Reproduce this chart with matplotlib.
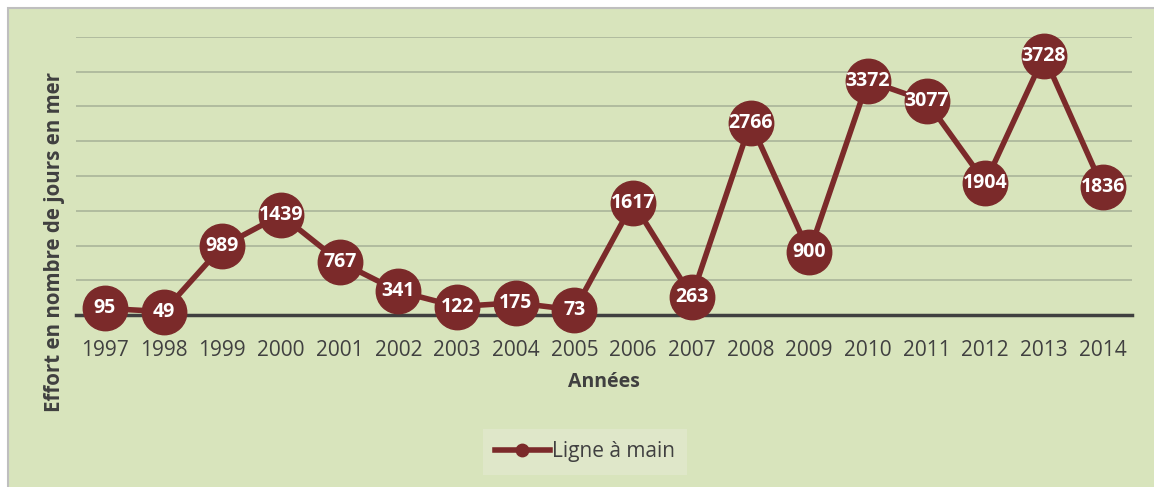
import matplotlib

matplotlib.use("Agg")

import matplotlib.pyplot as plt
from matplotlib.patches import Rectangle

# Fishing effort, hand line, days at sea per year
years = ["1997", "1998", "1999", "2000", "2001", "2002", "2003", "2004", "2005",
         "2006", "2007", "2008", "2009", "2010", "2011", "2012", "2013", "2014"]
effort = [95, 49, 989, 1439, 767, 341, 122, 175, 73,
          1617, 263, 2766, 900, 3372, 3077, 1904, 3728, 1836]
series_name = "Ligne à main"

bg = "#d8e4bc"
red = "#7b2a2a"
text_col = "#404040"

plt.rcParams["font.family"] = ["Open Sans", "DejaVu Sans"]

fig = plt.figure(figsize=(11.54, 4.87), dpi=100)
fig.patch.set_facecolor("white")

# chart area frame (runs off the right and bottom edges)
fig.patches.append(Rectangle((8 / 1154, -0.05), 1.1, 1.05 - 8 / 487,
                             transform=fig.transFigure, facecolor=bg,
                             edgecolor="#bfbfbf", linewidth=1.5, zorder=-5))

ax = fig.add_axes([75.6 / 1154, 172 / 487, (1132 - 75.6) / 1154, 278 / 487])
ax.set_facecolor("none")

x = list(range(len(years)))
ax.plot(x, effort, color=red, linewidth=4, marker="o", markersize=32,
        markerfacecolor=red, markeredgecolor=red, clip_on=False, zorder=3,
        label=series_name)
for xi, v in zip(x, effort):
    ax.text(xi, v, str(v), ha="center", va="center", color="white",
            fontsize=14, fontweight="bold", zorder=4)

ax.set_xlim(-0.5, len(years) - 0.5)
ax.set_ylim(0, 4000)
ax.set_yticks(range(500, 4001, 500))
ax.set_yticklabels([])
ax.tick_params(axis="y", length=0)
ax.grid(axis="y", color="#aab59a", linewidth=1.2)
ax.set_axisbelow(True)

ax.set_xticks(x)
ax.set_xticklabels(years, fontsize=15, color=text_col)
ax.tick_params(axis="x", length=0, pad=18)

for side in ["top", "right", "left"]:
    ax.spines[side].set_visible(False)
ax.spines["bottom"].set_color(text_col)
ax.spines["bottom"].set_linewidth(2.5)
ax.spines["bottom"].set_zorder(2)

ax.set_xlabel("Années", fontsize=14, fontweight="bold", color=text_col,
              labelpad=8)
fig.text(55 / 1154, 1 - 242 / 487, "Effort en nombre de jours en mer",
         rotation=90, ha="center", va="center", fontsize=14.8,
         fontweight="bold", color=text_col)

leg = fig.legend(handles=ax.get_lines(), labels=[series_name],
                 loc="center", bbox_to_anchor=(585 / 1154, 35 / 487),
                 frameon=True, fancybox=False, fontsize=15,
                 handlelength=2.6, handletextpad=0.1, borderpad=0.6,
                 borderaxespad=0, markerscale=0.28)
leg.get_frame().set_facecolor("#e1e9cd")
leg.get_frame().set_edgecolor("none")
for t in leg.get_texts():
    t.set_color(text_col)

fig.savefig("out.png", dpi=100, facecolor=fig.get_facecolor())
